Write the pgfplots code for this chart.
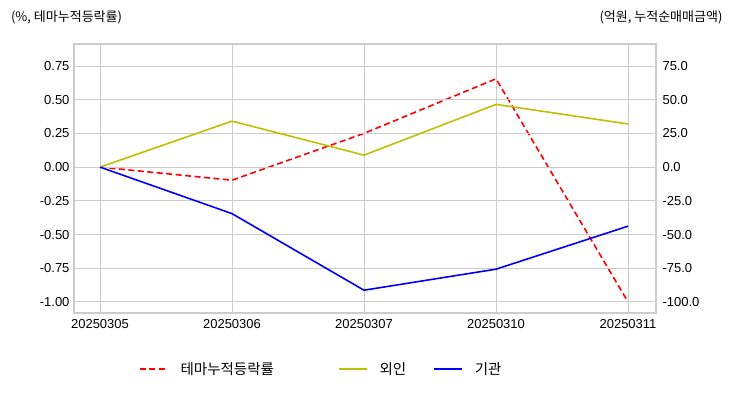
\documentclass[border=0pt]{standalone}
\usepackage{pgfplots}
\pgfplotsset{compat=1.18}
\usepackage{fontspec}
\setmainfont{Liberation Sans}
\newfontfamily\kr{Noto Sans CJK KR}
\definecolor{gridc}{HTML}{CCCCCC}
\definecolor{yel}{rgb}{0.75,0.75,0}
\begin{document}
\begin{tikzpicture}[x=1pt,y=1pt]
\useasboundingbox (0,0) rectangle (732,392);
\pgfplotsset{
  every axis/.append style={
    scale only axis, width=582pt, height=269pt,
    at={(74pt,79pt)}, anchor=south west,
    xmin=-0.197, xmax=4.212,
    axis line style={gridc, line width=1.1pt},
    major tick length=0pt,
    tick style={draw=none},
    grid style={gridc, line width=0.9pt},
    font=\fontsize{13}{15}\selectfont,
    /pgf/number format/assume math mode=true,
  }
}
\begin{axis}[
  ymin=-1.082, ymax=0.913,
  xtick={0,1,2,3,4},
  xticklabels={20250305,20250306,20250307,20250310,20250311},
  ytick={-1,-0.75,-0.5,-0.25,0,0.25,0.5,0.75},
  yticklabel style={/pgf/number format/fixed, /pgf/number format/fixed zerofill, /pgf/number format/precision=2, xshift=-1pt},
  xmajorgrids, ymajorgrids,
  xticklabel style={yshift=-2.5pt},
]
\addplot[red, line width=1.6pt, dash pattern=on 6pt off 3.5pt] coordinates {(0,0) (1,-0.097) (2,0.25) (3,0.655) (4,-1.0)};
\end{axis}
\begin{axis}[
  ymin=-108.2, ymax=91.3,
  axis y line*=right, axis x line=none,
  ytick={-100,-75,-50,-25,0,25,50,75},
  yticklabel style={/pgf/number format/fixed, /pgf/number format/fixed zerofill, /pgf/number format/precision=1, xshift=3pt},
  ymajorgrids,
  legend columns=3,
  legend style={at={(0.1117,-0.208)}, anchor=west, draw=none, fill=none,
    inner sep=0pt, outer sep=0pt,
    nodes={inner sep=0pt, outer sep=0pt},
    font=\kr\fontsize{14.5}{16}\selectfont},
  legend image code/.code={\draw[#1] (0pt,0pt) -- (28pt,0pt);},
]
\addlegendimage{red, line width=1.6pt, dash pattern=on 6pt off 3.5pt}
\addlegendentry{\hspace{12pt}테마누적등락률\kern64pt}
\addlegendimage{yel, line width=1.6pt}
\addlegendentry{\hspace{12pt}외인\kern27pt}
\addlegendimage{blue, line width=1.6pt}
\addlegendentry{\hspace{12pt}기관}
\addplot[yel, line width=1.6pt, forget plot] coordinates {(0,0) (1,34.1) (2,8.9) (3,46.5) (4,32)};
\addplot[blue, line width=1.6pt, forget plot] coordinates {(0,0) (1,-34.5) (2,-91.3) (3,-75.7) (4,-43.8)};
\end{axis}
\node[anchor=west, font=\kr\fontsize{13}{15}\selectfont] at (7.5,375) {(\%, 테마누적등락률)};
\node[anchor=east, font=\kr\fontsize{13}{15}\selectfont] at (726,375) {(억원, 누적순매매금액)};
\end{tikzpicture}
\end{document}
